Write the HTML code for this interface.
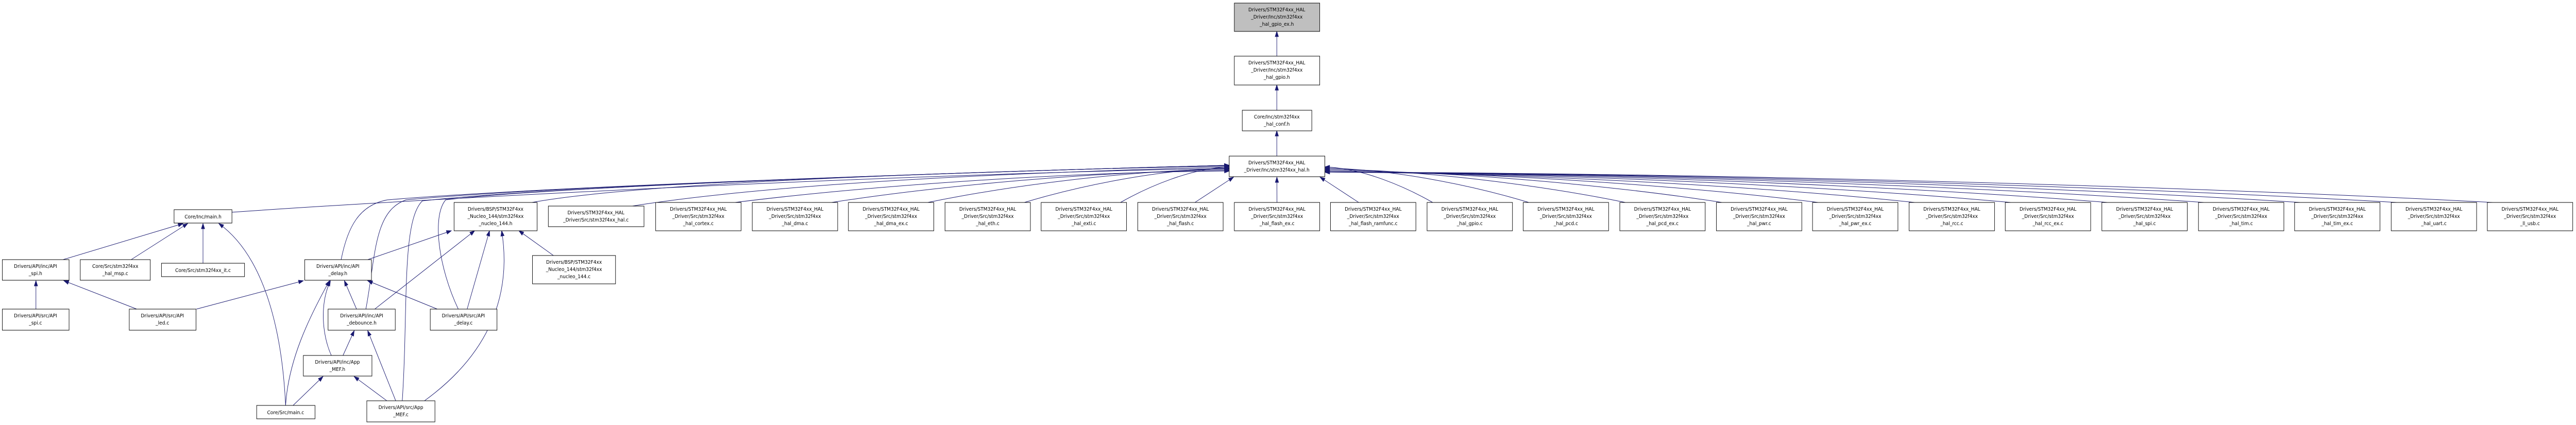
<!DOCTYPE html>
<html><head><meta charset="utf-8">
<style>
html,body{margin:0;padding:0;background:#fff;width:100%;height:100%;overflow:hidden;}
svg{display:block;position:fixed;left:0;top:0;width:100vw;height:100vh;}
text{font-family:"DejaVu Sans","Liberation Sans",sans-serif;font-size:10px;fill:#000;text-anchor:middle;}
rect{stroke:#000;stroke-width:1;}
</style></head>
<body>
<svg id="g" viewBox="0 0 5520 825" preserveAspectRatio="none" xmlns="http://www.w3.org/2000/svg">
<g id="edges" fill="none" stroke="#191970" stroke-width="1"></g>
<g id="arrows" fill="#191970" stroke="#191970"></g>
<g id="nodes">
<rect x="2645" y="6" width="183" height="55" fill="#bfbfbf"/><text x="2736" y="22">Drivers/STM32F4xx_HAL</text><text x="2736" y="36">_Driver/Inc/stm32f4xx</text><text x="2736" y="50">_hal_gpio_ex.h</text>
<rect x="2645" y="109" width="183" height="56" fill="#fff"/><text x="2736" y="125">Drivers/STM32F4xx_HAL</text><text x="2736" y="139">_Driver/Inc/stm32f4xx</text><text x="2736" y="153">_hal_gpio.h</text>
<rect x="2662" y="214" width="149" height="40" fill="#fff"/><text x="2736" y="230">Core/Inc/stm32f4xx</text><text x="2736" y="244">_hal_conf.h</text>
<rect x="2634" y="303" width="205" height="40" fill="#fff"/><text x="2736" y="319">Drivers/STM32F4xx_HAL</text><text x="2736" y="333">_Driver/Inc/stm32f4xx_hal.h</text>
<rect x="973" y="393" width="178" height="55" fill="#fff"/><text x="1062" y="409">Drivers/BSP/STM32F4xx</text><text x="1062" y="423">_Nucleo_144/stm32f4xx</text><text x="1062" y="437">_nucleo_144.h</text>
<rect x="1175" y="400" width="205" height="40" fill="#fff"/><text x="1277" y="416">Drivers/STM32F4xx_HAL</text><text x="1277" y="430">_Driver/Src/stm32f4xx_hal.c</text>
<rect x="1141" y="496" width="178" height="55" fill="#fff"/><text x="1230" y="512">Drivers/BSP/STM32F4xx</text><text x="1230" y="526">_Nucleo_144/stm32f4xx</text><text x="1230" y="540">_nucleo_144.c</text>
<rect x="373" y="407" width="124" height="26" fill="#fff"/><text x="435" y="424">Core/Inc/main.h</text>
<rect x="5" y="504" width="143" height="40" fill="#fff"/><text x="76" y="520">Drivers/API/inc/API</text><text x="76" y="534">_spi.h</text>
<rect x="172" y="504" width="150" height="40" fill="#fff"/><text x="247" y="520">Core/Src/stm32f4xx</text><text x="247" y="534">_hal_msp.c</text>
<rect x="346" y="511" width="178" height="26" fill="#fff"/><text x="435" y="528">Core/Src/stm32f4xx_it.c</text>
<rect x="653" y="504" width="143" height="40" fill="#fff"/><text x="724" y="520">Drivers/API/inc/API</text><text x="724" y="534">_delay.h</text>
<rect x="5" y="600" width="143" height="41" fill="#fff"/><text x="76" y="616">Drivers/API/src/API</text><text x="76" y="630">_spi.c</text>
<rect x="277" y="600" width="143" height="41" fill="#fff"/><text x="348" y="616">Drivers/API/src/API</text><text x="348" y="630">_led.c</text>
<rect x="703" y="600" width="144" height="41" fill="#fff"/><text x="775" y="616">Drivers/API/inc/API</text><text x="775" y="630">_debounce.h</text>
<rect x="922" y="600" width="143" height="41" fill="#fff"/><text x="993" y="616">Drivers/API/src/API</text><text x="993" y="630">_delay.c</text>
<rect x="650" y="690" width="147" height="40" fill="#fff"/><text x="723" y="706">Drivers/API/inc/App</text><text x="723" y="720">_MEF.h</text>
<rect x="550" y="787" width="125" height="26" fill="#fff"/><text x="612" y="804">Core/Src/main.c</text>
<rect x="786" y="778" width="146" height="41" fill="#fff"/><text x="859" y="794">Drivers/API/src/App</text><text x="859" y="808">_MEF.c</text>
</g>
<g id="row"></g>
</svg>
<script>
var NS="http://www.w3.org/2000/svg";
var E=document.getElementById('edges'),A=document.getElementById('arrows'),R=document.getElementById('row');
function el(p,t,a){var e=document.createElementNS(NS,t);for(var k in a)e.setAttribute(k,a[k]);p.appendChild(e);return e;}
function arrow(tx,ty,px,py){var dx=tx-px,dy=ty-py,l=Math.sqrt(dx*dx+dy*dy)||1;dx/=l;dy/=l;
 var bx=tx-dx*10,by=ty-dy*10,nx=-dy*3.5,ny=dx*3.5;
 el(A,'polygon',{points:tx+','+ty+' '+(bx+nx)+','+(by+ny)+' '+(bx-nx)+','+(by-ny)});}
function line(x1,y1,x2,y2){el(E,'path',{d:'M'+x1+','+y1+' L'+x2+','+y2});arrow(x2,y2,x1,y1);}
function curve(d,tx,ty,px,py){el(E,'path',{d:d});arrow(tx,ty,px,py);}
line(2736,109,2736,61);line(2736,214,2736,165);line(2736,303,2736,254);
var names=['hal_cortex.c','hal_dma.c','hal_dma_ex.c','hal_eth.c','hal_exti.c','hal_flash.c','hal_flash_ex.c','hal_flash_ramfunc.c','hal_gpio.c','hal_pcd.c','hal_pcd_ex.c','hal_pwr.c','hal_pwr_ex.c','hal_rcc.c','hal_rcc_ex.c','hal_spi.c','hal_tim.c','hal_tim_ex.c','hal_uart.c','ll_usb.c'];
for(var i=0;i<names.length;i++){
 var x=Math.round(1405+206.6*i),cx=x+91.5;
 el(R,'rect',{x:x,y:393,width:183,height:55,fill:'#fff'});
 var t1=el(R,'text',{x:cx,y:409});t1.textContent='Drivers/STM32F4xx_HAL';
 var t2=el(R,'text',{x:cx,y:423});t2.textContent='_Driver/Src/stm32f4xx';
 var t3=el(R,'text',{x:cx,y:437});t3.textContent='_'+names[i];
 var d=cx-2736;
 if(Math.abs(d)<250){var tx=2736+d*0.45,ty=344;line(cx-d*0.15,393,tx,ty);}
 else if(d<0){var sx=x+170,sy=393,tx=2634,ty=320+Math.min(12,Math.abs(d)/1200*12);
  var c1x=sx+(tx-sx)*0.25,c1y=sy-30,c2x=tx-(tx-sx)*0.35,c2y=ty+2;
  curve('M'+sx+','+sy+' C'+c1x+','+c1y+' '+c2x+','+c2y+' '+tx+','+ty,tx,ty,c2x,c2y);}
 else {var sx=x+12,sy=393,tx=2839,ty=320+Math.min(14,d/1200*12);
  var c1x=sx+(tx-sx)*0.25,c1y=sy-30,c2x=tx-(tx-sx)*0.35,c2y=ty+2;
  curve('M'+sx+','+sy+' C'+c1x+','+c1y+' '+c2x+','+c2y+' '+tx+','+ty,tx,ty,c2x,c2y);}
}
curve('M1140,393 C1400,350 2200,330 2634,322',2634,322,2200,330);
curve('M1355,400 C1700,350 2300,332 2634,324',2634,324,2300,332);
curve('M497,412 C1000,380 2000,336 2634,327',2634,327,2000,336);
curve('M731,504 C745,440 770,398 830,388 C1200,360 2200,330 2634,321',2634,321,2200,330);
curve('M784,600 C805,500 800,410 870,388 C1200,360 2200,330 2634,321',2634,321,2200,330);
curve('M862,778 C875,600 860,430 905,390 C1200,360 2200,330 2634,321',2634,321,2200,330);
curve('M982,600 C940,520 925,420 955,388 C1200,360 2200,330 2634,321',2634,321,2200,330);
line(135,504,392,434);line(281,504,402,434);line(435,511,435,434);
curve('M612,787 C605,650 570,500 469,434',469,434,570,500);
line(77,600,77,545);line(293,600,137,545);line(421,600,650,545);
line(764,600,738,545);
curve('M710,690 C690,650 685,590 708,545',708,545,685,590);
curve('M612,787 C618,700 660,620 706,545',706,545,660,620);
line(937,600,788,545);
line(788,504,967,448);line(803,600,1017,448);line(1001,600,1049,448);
curve('M908,779 C1060,680 1095,560 1075,448',1075,448,1095,560);
line(1186,496,1112,448);
line(735,690,759,642);line(848,778,788,642);
line(628,787,692,731);line(829,778,759,731);
</script>
</body></html>
